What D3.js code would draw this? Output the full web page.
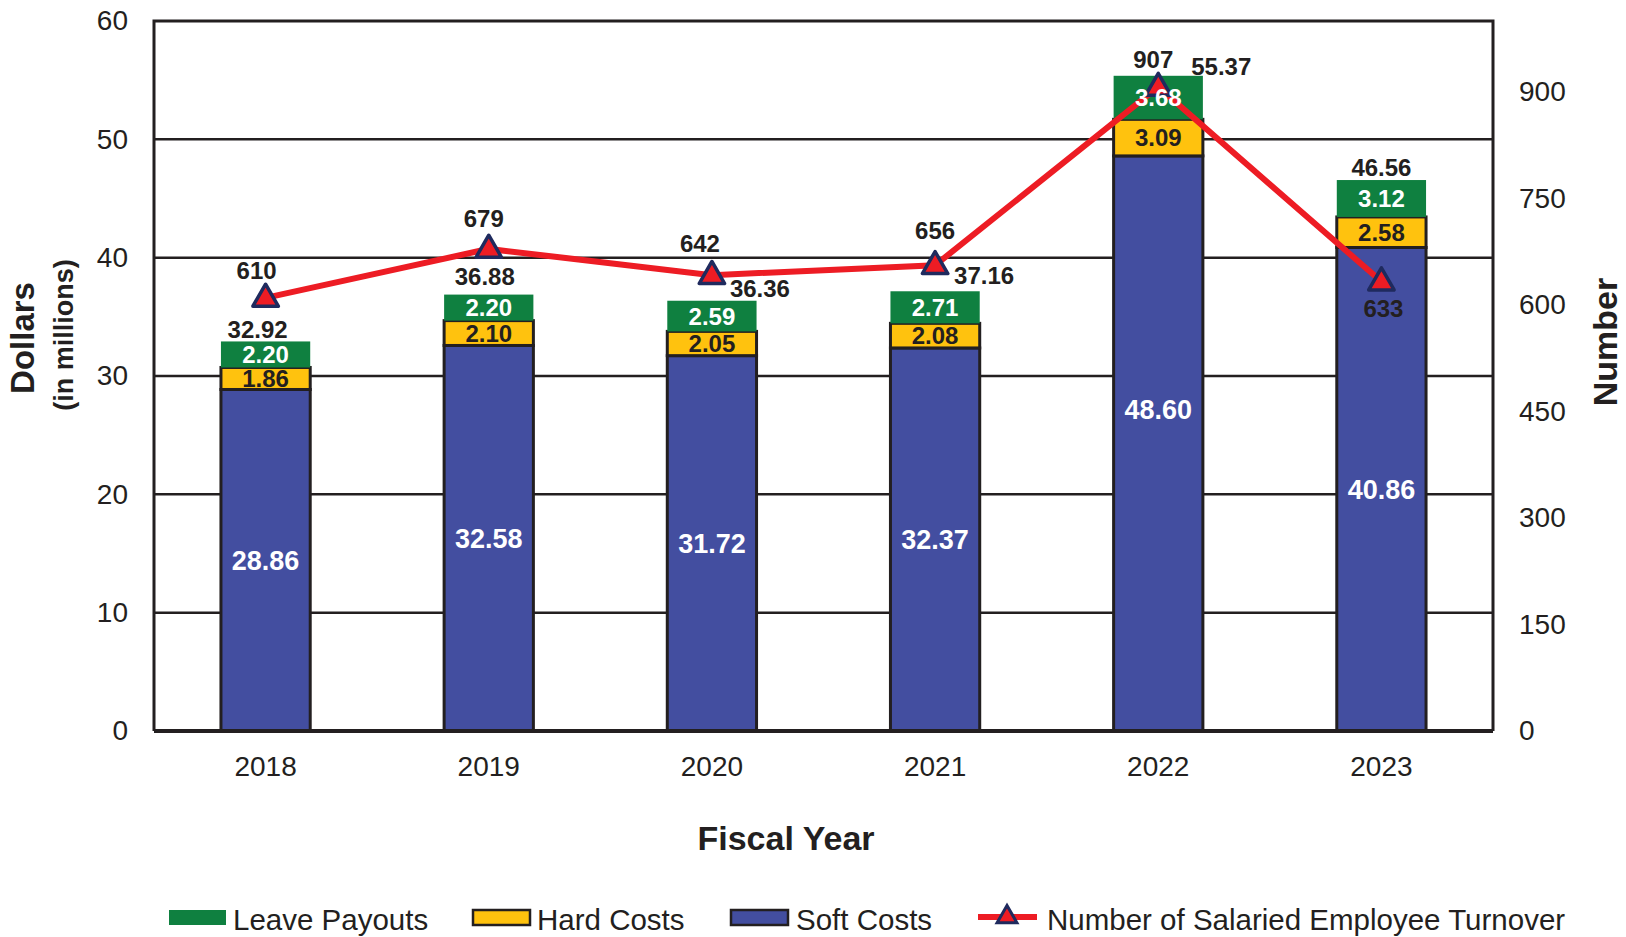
<!DOCTYPE html>
<meta charset="utf-8">
<script src="https://d3js.org/d3.v7.min.js"></script>
<style>
  body { margin: 0; background: #fff; }
  text { font-family: "Liberation Sans", Arial, sans-serif; fill: #231f20; }
</style>
<div id="my_dataviz"></div>
<script>

// data
var years = ["2018", "2019", "2020", "2021", "2022", "2023"];
var softCosts = [28.86, 32.58, 31.72, 32.37, 48.60, 40.86];
var hardCosts = [1.86, 2.10, 2.05, 2.08, 3.09, 2.58];
var leavePayouts = [2.20, 2.20, 2.59, 2.71, 3.68, 3.12];
var totals = [32.92, 36.88, 36.36, 37.16, 55.37, 46.56];
var turnover = [610, 679, 642, 656, 907, 633];
var leftTicks = [0, 10, 20, 30, 40, 50, 60];
var rightTicks = [0, 150, 300, 450, 600, 750, 900];

// label nudges (layout only)
var totalNudge = [[-8, -3], [-4, -10], [48, -4], [49, -7], [63, -1], [0, -4]];
var turnNudge = [[-9, -19], [-5, -22], [-12, -23], [0, -26], [-5, -19], [2, 35]];
var softNudge = [0, 0, 0, 0, -34, 0];

var W = 1626, H = 937;
var margin = {top: 21, right: 133, bottom: 206, left: 154};
var width = W - margin.left - margin.right,
    height = H - margin.top - margin.bottom;

var svg = d3.select("#my_dataviz")
  .append("svg")
    .attr("width", W)
    .attr("height", H);

var g = svg.append("g")
    .attr("transform", "translate(" + margin.left + "," + margin.top + ")");

var x = d3.scaleBand().domain(years).range([0, width]).paddingInner(0.6).paddingOuter(0.3);
var y = d3.scaleLinear().domain([0, 60]).range([height, 0]);
var y2 = d3.scaleLinear().domain([0, 1000]).range([height, 0]);

var dark = "#231f20";

// gridlines
g.selectAll(".grid")
  .data(leftTicks.slice(1, -1))
  .enter().append("line")
    .attr("x1", 0).attr("x2", width)
    .attr("y1", function(d) { return y(d); })
    .attr("y2", function(d) { return y(d); })
    .attr("stroke", dark).attr("stroke-width", 2.5);

// frame
g.append("path")
  .attr("d", "M0," + height + "V0H" + width + "V" + height)
  .attr("fill", "none").attr("stroke", dark).attr("stroke-width", 3);

// left axis labels
var yAxis = g.append("g")
  .call(d3.axisLeft(y).tickValues(leftTicks).tickSize(0).tickPadding(26));
yAxis.select(".domain").remove();
yAxis.selectAll("text").style("font-size", "28px").attr("fill", dark);

// right axis labels
var yAxis2 = g.append("g")
  .attr("transform", "translate(" + width + ",0)")
  .call(d3.axisRight(y2).tickValues(rightTicks).tickSize(0).tickPadding(26));
yAxis2.select(".domain").remove();
yAxis2.selectAll("text").style("font-size", "28px").attr("fill", dark);

// x axis labels
var xAxis = g.append("g")
  .attr("transform", "translate(0," + height + ")")
  .call(d3.axisBottom(x).tickSize(0).tickPadding(25));
xAxis.select(".domain").remove();
xAxis.selectAll("text").style("font-size", "28px").attr("fill", dark);

// stacked bars
var rows = years.map(function(yr, i) {
  return {year: yr, idx: i, soft: softCosts[i], hard: hardCosts[i], leave: leavePayouts[i]};
});
var stack = d3.stack().keys(["soft", "hard", "leave"])(rows);
var fills = {soft: "#434ea0", hard: "#ffc20e", leave: "#0f8040"};

var layers = g.selectAll(".layer")
  .data(stack)
  .enter().append("g")
    .attr("fill", function(d) { return fills[d.key]; });

layers.selectAll("rect")
  .data(function(d) { return d.map(function(p) { p.key = d.key; return p; }); })
  .enter().append("rect")
    .attr("x", function(d) { return x(d.data.year); })
    .attr("width", x.bandwidth())
    .attr("y", function(d) { return y(d[1]); })
    .attr("height", function(d) { return y(d[0]) - y(d[1]); })
    .attr("stroke", function(d) { return d.key == "leave" ? "none" : dark; })
    .attr("stroke-width", 3);

// baseline on top of bars
g.append("line")
  .attr("x1", 0).attr("x2", width)
  .attr("y1", height).attr("y2", height)
  .attr("stroke", dark).attr("stroke-width", 4);

// turnover line
var line = d3.line()
  .x(function(d, i) { return x(years[i]) + x.bandwidth() / 2; })
  .y(function(d) { return y2(d); });

g.append("path")
  .datum(turnover)
  .attr("d", line)
  .attr("fill", "none")
  .attr("stroke", "#ed1c24")
  .attr("stroke-width", 6);

var tri = d3.symbol().type(d3.symbolTriangle).size(280);
g.selectAll(".tri")
  .data(turnover)
  .enter().append("path")
    .attr("d", tri)
    .attr("transform", function(d, i) {
      return "translate(" + (x(years[i]) + x.bandwidth() / 2) + "," + (y2(d) + 1) + ")";
    })
    .attr("fill", "#ed1c24")
    .attr("stroke", "#1f2a5e")
    .attr("stroke-width", 3.5)
    .attr("stroke-linejoin", "round");

// segment labels (drawn over the line)
var segLabels = g.append("g");
stack.forEach(function(layer) {
  segLabels.selectAll(".seg-" + layer.key)
    .data(layer)
    .enter().append("text")
      .attr("x", function(d) { return x(d.data.year) + x.bandwidth() / 2; })
      .attr("y", function(d) {
        var mid = (y(d[0]) + y(d[1])) / 2;
        return layer.key == "soft" ? mid + softNudge[d.data.idx] : mid;
      })
      .attr("dy", "0.36em")
      .attr("text-anchor", "middle")
      .style("font-weight", "bold")
      .style("font-size", layer.key == "soft" ? "27px" : "24px")
      .style("fill", layer.key == "hard" ? dark : "#fff")
      .text(function(d) { return (d[1] - d[0]).toFixed(2); });
});

// totals
g.selectAll(".total")
  .data(totals)
  .enter().append("text")
    .attr("x", function(d, i) { return x(years[i]) + x.bandwidth() / 2 + totalNudge[i][0]; })
    .attr("y", function(d, i) { return y(d) + totalNudge[i][1]; })
    .attr("text-anchor", "middle")
    .style("font-weight", "bold")
    .style("font-size", "24px")
    .text(function(d) { return d.toFixed(2); });

g.selectAll(".turn")
  .data(turnover)
  .enter().append("text")
    .attr("x", function(d, i) { return x(years[i]) + x.bandwidth() / 2 + turnNudge[i][0]; })
    .attr("y", function(d, i) { return y2(d) + turnNudge[i][1]; })
    .attr("text-anchor", "middle")
    .style("font-weight", "bold")
    .style("font-size", "24px")
    .text(function(d) { return d; });

// axis titles
svg.append("text")
  .attr("transform", "translate(34,338)rotate(-90)")
  .attr("text-anchor", "middle")
  .style("font-weight", "bold").style("font-size", "33px")
  .text("Dollars");
svg.append("text")
  .attr("transform", "translate(73,335)rotate(-90)")
  .attr("text-anchor", "middle")
  .style("font-weight", "bold").style("font-size", "27px")
  .text("(in millions)");
svg.append("text")
  .attr("transform", "translate(1617,342)rotate(-90)")
  .attr("text-anchor", "middle")
  .style("font-weight", "bold").style("font-size", "34px")
  .text("Number");
svg.append("text")
  .attr("x", 786).attr("y", 850)
  .attr("text-anchor", "middle")
  .style("font-weight", "bold").style("font-size", "34px")
  .text("Fiscal Year");

// legend
var legendItems = [
  {label: "Leave Payouts", type: "leave", x: 169, tx: 233},
  {label: "Hard Costs", type: "hard", x: 473, tx: 537},
  {label: "Soft Costs", type: "soft", x: 731, tx: 796},
  {label: "Number of Salaried Employee Turnover", type: "line", x: 978, tx: 1047}
];
var ly = 920;
var leg = svg.append("g");
legendItems.forEach(function(it) {
  if (it.type == "line") {
    leg.append("line")
      .attr("x1", it.x).attr("x2", it.x + 59)
      .attr("y1", ly - 3).attr("y2", ly - 3)
      .attr("stroke", "#ed1c24").attr("stroke-width", 6);
    leg.append("path")
      .attr("d", d3.symbol().type(d3.symbolTriangle).size(170))
      .attr("transform", "translate(" + (it.x + 29) + "," + (ly - 3) + ")")
      .attr("fill", "#ed1c24").attr("stroke", "#1f2a5e").attr("stroke-width", 3);
  } else {
    leg.append("rect")
      .attr("x", it.x).attr("y", ly - 10)
      .attr("width", 57).attr("height", 15)
      .attr("fill", fills[it.type])
      .attr("stroke", it.type == "leave" ? "none" : dark)
      .attr("stroke-width", 2.5);
  }
  leg.append("text")
    .attr("x", it.tx).attr("y", ly)
    .attr("dy", "0.35em")
    .style("font-size", "29.5px")
    .text(it.label);
});

</script>
